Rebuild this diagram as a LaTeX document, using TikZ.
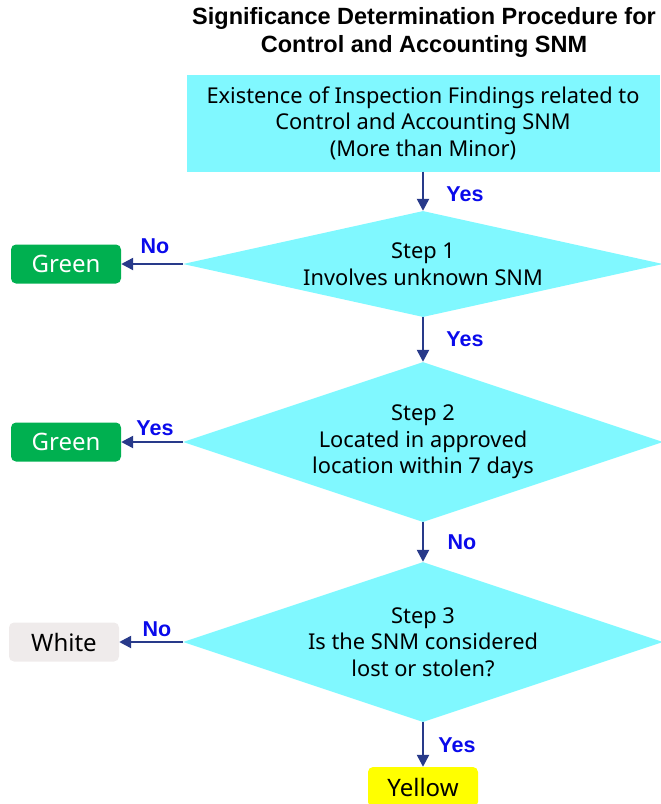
\documentclass[tikz,border=0pt]{standalone}
\usepackage{fontspec}
\setmainfont{Noto Sans}
\newfontfamily\headfont{Liberation Sans}
\usetikzlibrary{shapes.geometric,arrows.meta}

\definecolor{fillcyan}{RGB}{128,248,255}
\definecolor{gradegreen}{RGB}{0,176,80}
\definecolor{gradewhite}{RGB}{239,235,235}
\definecolor{gradeyellow}{RGB}{255,255,0}
\definecolor{flowline}{RGB}{40,58,138}
\definecolor{answer}{RGB}{10,10,235}

\begin{document}
\begin{tikzpicture}[x=1pt,y=-1pt,
  bodytext/.style={font=\fontsize{21.8}{26.5}\selectfont},
  startbox/.style={rectangle, fill=fillcyan, minimum width=473pt, minimum height=97pt,
    inner sep=0pt, align=center, bodytext},
  cond/.style={diamond, fill=fillcyan, inner xsep=-20pt, inner ysep=-10pt, align=center, bodytext},
  grade/.style={rectangle, rounded corners=5pt, minimum width=110pt, minimum height=39pt,
    inner sep=0pt, font=\fontsize{24}{28}\selectfont},
  flow/.style={draw=flowline, line width=2.4pt, -{Triangle[length=12pt,width=12pt]}},
  answerlbl/.style={text=answer, font=\headfont\bfseries\fontsize{21.5}{24}\selectfont},
  headline/.style={align=center, font=\headfont\bfseries\fontsize{23.5}{28}\selectfont}]
\useasboundingbox (0,0) rectangle (661,804);

% heading
\node[headline] (title) at (424,32) {Significance Determination Procedure for\\Control and Accounting SNM};

% entry condition
\node[startbox] (start) at (423,123) {Existence of Inspection Findings related to\\Control and Accounting SNM\\(More than Minor)};

% decision steps
\node[cond, minimum width=480pt, minimum height=106pt, shape aspect=4.5] (d1) at (423,264)
  {Step 1\\Involves unknown SNM};
\node[cond, minimum width=480pt, minimum height=160pt, shape aspect=3] (d2) at (423,442)
  {Step 2\\Located in approved\\location within 7 days};
\node[cond, minimum width=480pt, minimum height=160pt, shape aspect=3] (d3) at (423,642)
  {Step 3\\Is the SNM considered\\lost or stolen?};

% outcomes
\node[grade, fill=gradegreen, text=white] (g1) at (66,264) {Green};
\node[grade, fill=gradegreen, text=white] (g2) at (66,442) {Green};
\node[grade, fill=gradewhite, text=black] (w3) at (64,642) {White};
\node[grade, fill=gradeyellow, text=black, minimum height=40pt] (y4) at (423,787) {Yellow};

% connectors
\draw[flow] (start.south) -- (d1.north);
\draw[flow] (d1.south) -- (d2.north);
\draw[flow] (d2.south) -- (d3.north);
\draw[flow] (d3.south) -- (y4.north);
\draw[flow] (d1.west) -- (g1.east);
\draw[flow] (d2.west) -- (g2.east);
\draw[flow] (d3.west) -- (w3.east);

% answer labels
\node[answerlbl] (a0) at (465,194) {Yes};
\node[answerlbl] (a1) at (465,339) {Yes};
\node[answerlbl] (a2) at (462,542) {No};
\node[answerlbl] (a3) at (457,745) {Yes};
\node[answerlbl] (b1) at (155,246) {No};
\node[answerlbl] (b2) at (155,428) {Yes};
\node[answerlbl] (b3) at (157,629) {No};
\end{tikzpicture}
\end{document}
